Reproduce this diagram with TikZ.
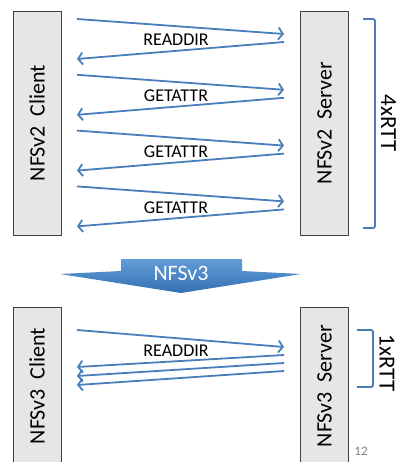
\documentclass[tikz,border=0pt]{standalone}
\usepackage{fontspec}
\setmainfont{Carlito}
\usetikzlibrary{arrows.meta}
\definecolor{rpcblue}{RGB}{74,126,187}
\definecolor{boxgray}{RGB}{230,230,230}
\definecolor{bannertop}{RGB}{98,157,216}
\definecolor{bannerbot}{RGB}{52,112,180}
\tikzset{
  host/.style={draw=black!75, fill=boxgray, line width=0.8pt, rotate=90,
    minimum height=48pt, inner sep=0pt, font=\fontsize{22}{24}\selectfont},
  rpc/.style={rpcblue, line width=1.8pt, -{Straight Barb[length=4.5pt,width=12pt]}},
  msg/.style={font=\fontsize{18}{20}\selectfont},
  rtt/.style={rpcblue, line width=1.8pt, rounded corners=2pt}
}
\begin{document}
\begin{tikzpicture}[x=1pt,y=-1pt]
\useasboundingbox (0,0) rectangle (398,462);
\clip (0,0) rectangle (398,462);

% NFSv2: one call per round trip
\node[host, minimum width=224pt] (cli2) at (37,123) {NFSv2\ \ Client};
\node[host, minimum width=224pt] (srv2) at (324.5,123) {NFSv2\ \ Server};

\foreach \k/\lab in {0/READDIR,1/GETATTR,2/GETATTR,3/GETATTR} {
  \coordinate (c\k a) at (77,{19+55.8*\k});
  \coordinate (s\k a) at (284,{34+55.8*\k});
  \coordinate (s\k b) at (284,{42+55.8*\k});
  \coordinate (c\k b) at (77,{59+55.8*\k});
  \draw[rpc] (c\k a) -- (s\k a);
  \draw[rpc] (s\k b) -- (c\k b);
  \node[msg] (m\k) at (176,{40+55.8*\k}) {\lab};
}

\coordinate (b4t) at (363,19);
\coordinate (b4b) at (363,228);
\draw[rtt] (b4t) -- ++(12,0) |- (b4b);
\node[rotate=-90, font=\fontsize{23}{25}\selectfont] (rtt4) at (388.5,123) {4xRTT};

% banner
\shade[top color=bannertop, bottom color=bannerbot]
  (60,274) -- (121,271) -- (121,259) -- (242,259) -- (242,271)
  -- (301,274) -- (181,293) -- cycle;
\node[white, font=\fontsize{22}{24}\selectfont] (v3) at (181,273) {NFSv3};

% NFSv3: readdirplus in one round trip
\node[host, minimum width=158pt] (cli3) at (37,386) {NFSv3\ \ Client};
\node[host, minimum width=158pt] (srv3) at (324.5,386) {NFSv3\ \ Server};

\coordinate (q0) at (77,330);
\coordinate (r0) at (284,347);
\draw[rpc] (q0) -- (r0);
\node[msg] (m4) at (176,351) {READDIR};
\foreach \j in {0,1,2} {
  \coordinate (r\j b) at (284,{355+8*\j});
  \coordinate (q\j b) at (77,{367+9*\j});
  \draw[rpc] (r\j b) -- (q\j b);
}

\coordinate (b1t) at (357,330);
\coordinate (b1b) at (357,387);
\draw[rtt] (b1t) -- ++(16,0) |- (b1b);
\node[rotate=-90, font=\fontsize{23}{25}\selectfont] (rtt1) at (387,363) {1xRTT};

\node[gray, font=\fontsize{13}{15}\selectfont] (pg) at (361,451) {12};

\end{tikzpicture}
\end{document}
